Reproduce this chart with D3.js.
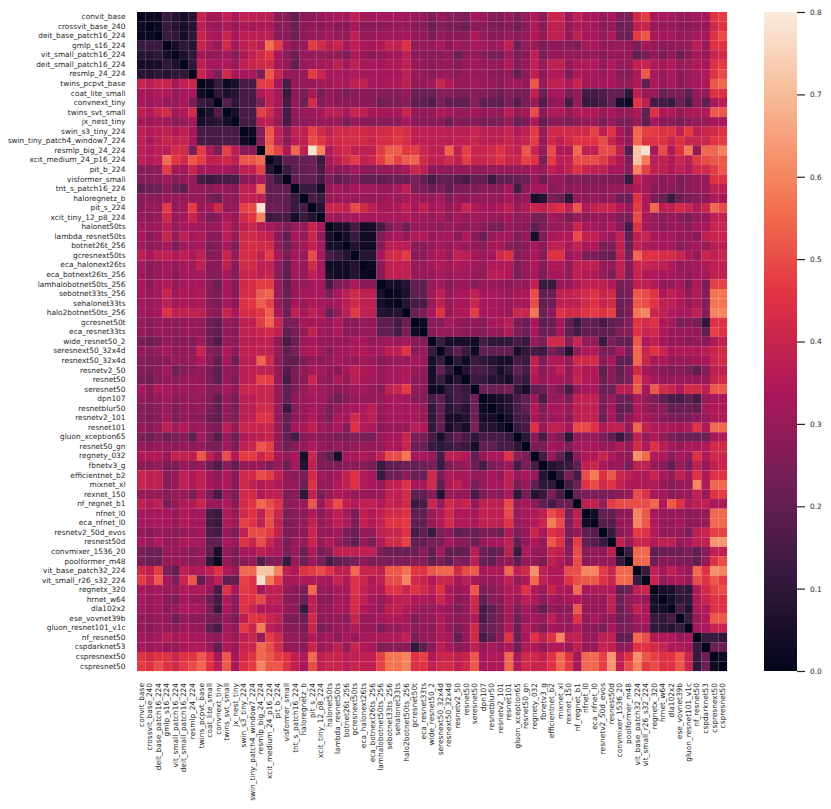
<!DOCTYPE html>
<html>
<head>
<meta charset="utf-8">
<script src="https://cdn.jsdelivr.net/npm/d3@7"></script>
<style>
  body { margin: 0; background: #fff; }
  svg text { font-family: "DejaVu Sans", sans-serif; fill: #262626; }
</style>
</head>
<body>
<svg id="chart" width="831" height="809"></svg>
<script>
// Model names, same order on both axes
const models = [
  'convit_base', 'crossvit_base_240', 'deit_base_patch16_224', 'gmlp_s16_224',
  'vit_small_patch16_224', 'deit_small_patch16_224', 'resmlp_24_224', 'twins_pcpvt_base',
  'coat_lite_small', 'convnext_tiny', 'twins_svt_small', 'jx_nest_tiny',
  'swin_s3_tiny_224', 'swin_tiny_patch4_window7_224', 'resmlp_big_24_224', 'xcit_medium_24_p16_224',
  'pit_b_224', 'visformer_small', 'tnt_s_patch16_224', 'haloregnetz_b',
  'pit_s_224', 'xcit_tiny_12_p8_224', 'halonet50ts', 'lambda_resnet50ts',
  'botnet26t_256', 'gcresnext50ts', 'eca_halonext26ts', 'eca_botnext26ts_256',
  'lamhalobotnet50ts_256', 'sebotnet33ts_256', 'sehalonet33ts', 'halo2botnet50ts_256',
  'gcresnet50t', 'eca_resnet33ts', 'wide_resnet50_2', 'seresnext50_32x4d',
  'resnext50_32x4d', 'resnetv2_50', 'resnet50', 'seresnet50',
  'dpn107', 'resnetblur50', 'resnetv2_101', 'resnet101',
  'gluon_xception65', 'resnet50_gn', 'regnety_032', 'fbnetv3_g',
  'efficientnet_b2', 'mixnet_xl', 'rexnet_150', 'nf_regnet_b1',
  'nfnet_l0', 'eca_nfnet_l0', 'resnetv2_50d_evos', 'resnest50d',
  'convmixer_1536_20', 'poolformer_m48', 'vit_base_patch32_224', 'vit_small_r26_s32_224',
  'regnetx_320', 'hrnet_w64', 'dla102x2', 'ese_vovnet39b',
  'gluon_resnet101_v1c', 'nf_resnet50', 'cspdarknet53', 'cspresnext50', 'cspresnet50'
];

// Upper triangle of the (symmetric) matrix, in hundredths.
// Row i starts at its diagonal cell; "|" marks the column 23 and 46 boundaries.
const upper = [
  '0 2 2 12 8 4 8 40 33 33 38 33 38 38 37 37 27 27 20 28 28 30 32 | 33 32 38 32 32 33 33 32 32 30 30 25 30 27 27 25 33 30 27 27 30 25 30 | 35 28 40 40 30 38 33 33 30 33 25 25 42 47 33 33 32 30 30 32 33 45 47',
  '0 2 12 8 5 8 37 32 30 35 30 35 33 35 35 27 27 22 28 30 28 30 | 28 28 33 28 28 28 30 30 30 27 27 22 27 25 25 22 28 28 25 25 27 22 28 | 35 28 38 38 30 35 32 32 28 30 22 22 38 40 30 30 30 28 28 30 30 42 45',
  '0 12 10 5 10 40 35 33 40 33 37 37 37 37 28 28 22 28 30 30 32 | 30 30 38 30 30 32 32 32 33 30 30 25 30 27 28 27 35 30 28 28 30 27 30 | 35 30 38 38 30 38 33 33 30 35 22 22 47 52 33 33 33 30 30 33 33 45 50',
  '0 5 10 8 40 35 30 42 32 38 40 37 56 47 32 28 30 47 42 37 | 40 33 38 33 33 35 40 38 45 30 30 30 33 28 32 30 33 32 30 32 38 22 30 | 30 25 28 28 27 25 33 33 30 30 30 30 25 33 30 28 28 30 30 37 30 45 45',
  '0 6 10 33 30 30 32 27 35 38 42 46 33 27 22 30 30 30 30 | 30 25 35 30 28 30 32 32 38 28 28 27 28 30 22 28 30 28 25 25 32 25 28 | 38 25 30 30 30 30 30 30 28 30 30 30 20 25 30 25 30 22 28 33 30 40 42',
  '0 10 38 33 33 35 30 38 40 42 42 32 30 20 30 32 32 33 | 38 32 38 33 33 33 35 35 38 30 30 28 30 30 27 30 32 30 30 30 35 27 30 | 38 30 38 38 30 35 35 35 30 35 30 30 38 40 35 33 35 30 32 35 33 45 47',
  '0 40 33 25 42 33 33 33 25 52 40 30 30 30 47 40 33 | 33 32 35 32 32 33 33 33 38 30 30 27 30 30 28 30 30 30 28 28 30 20 28 | 38 28 35 35 25 35 33 33 30 33 27 27 35 52 33 30 33 28 30 33 35 45 50',
  '0 3 12 2 5 15 15 47 47 33 15 30 30 30 32 32 | 35 33 38 38 33 33 35 35 38 30 30 32 40 35 30 30 32 30 30 28 32 32 30 | 52 30 38 38 35 40 33 33 33 33 30 30 35 20 35 30 33 28 30 33 35 52 55',
  '0 10 6 8 15 15 35 38 33 12 28 25 33 25 30 | 28 25 27 28 27 27 27 27 30 22 22 22 27 27 25 25 27 27 25 22 27 25 25 | 38 22 32 33 25 30 15 15 17 20 20 10 38 30 30 22 25 25 20 30 30 45 45',
  '0 18 10 15 15 25 38 33 15 30 22 42 28 30 | 28 28 28 28 27 22 25 25 27 20 20 17 25 20 20 20 27 20 20 20 25 18 25 | 30 17 28 30 15 30 12 12 15 20 5 2 45 38 15 15 12 22 15 28 20 33 37',
  '0 5 15 15 48 42 33 15 30 30 30 33 37 | 37 33 40 38 33 33 33 33 40 30 30 30 35 33 30 30 33 30 30 30 37 30 32 | 50 28 35 35 30 35 35 35 30 33 30 30 35 20 45 35 35 30 33 35 35 52 52',
  '0 15 15 37 37 30 15 27 28 30 30 30 | 30 25 30 28 27 27 28 28 33 28 27 27 28 22 28 25 28 25 25 25 30 22 25 | 35 20 28 28 25 28 30 30 25 30 25 25 30 20 33 28 28 25 28 30 30 33 33',
  '0 3 27 52 38 28 38 38 48 42 38 | 42 42 43 42 40 42 43 45 43 38 38 37 38 37 37 37 40 37 37 37 40 35 38 | 47 30 42 42 42 42 42 48 38 45 33 28 55 48 47 45 45 38 47 38 40 42 45',
  '0 28 52 38 28 37 38 50 46 40 | 42 43 43 42 40 43 43 46 43 38 38 37 38 37 38 38 40 37 37 38 40 37 40 | 47 30 42 38 42 45 45 45 50 40 33 30 55 45 45 45 40 45 40 40 40 46 47',
  '0 55 48 35 55 38 78 60 35 | 40 42 38 38 38 47 53 53 46 47 40 38 38 54 38 48 40 40 42 45 40 38 52 | 40 30 50 35 35 55 38 38 50 50 38 17 72 78 33 50 35 45 58 30 55 55 60',
  '0 8 20 20 20 22 12 33 | 38 42 47 38 40 47 54 48 53 54 42 38 38 42 38 47 40 40 42 45 40 40 48 | 45 25 47 37 38 50 50 50 47 40 35 25 72 58 37 38 35 40 37 47 50 52 52',
  '0 12 20 20 22 15 30 | 28 28 33 28 27 30 30 30 33 40 38 28 30 28 30 30 30 30 30 30 30 30 30 | 33 30 38 35 38 45 40 38 38 33 33 27 60 48 38 38 35 38 35 42 42 47 52',
  '0 20 20 20 15 25 | 20 22 25 20 20 20 22 22 22 25 20 15 20 20 18 15 20 20 13 20 20 20 22 | 30 22 30 30 25 27 25 25 25 25 25 12 38 33 30 28 30 25 28 30 30 45 45',
  '0 12 12 5 30 | 33 30 33 32 32 30 30 33 38 25 25 22 25 20 25 25 25 28 27 28 33 15 28 | 33 33 27 30 28 30 28 28 28 30 30 30 35 33 28 28 28 25 28 30 30 38 38',
  '0 15 12 30 | 30 32 30 30 30 30 33 30 33 33 30 30 33 25 30 28 30 30 30 30 33 28 30 | 5 8 25 22 10 30 28 30 28 30 22 22 45 35 25 22 12 22 25 27 28 35 33',
  '0 8 40 | 40 38 50 42 38 33 33 35 38 33 38 33 35 30 33 40 35 33 33 35 38 30 35 | 40 38 42 45 38 52 35 38 40 40 35 30 47 35 55 38 38 42 40 35 40 55 50',
  '0 33 | 30 33 33 33 33 33 33 33 35 33 32 30 33 28 32 30 32 32 30 30 32 28 30 | 25 25 32 30 25 30 28 30 30 30 25 25 50 33 30 28 30 28 25 30 30 38 38',
  '0 | 5 5 15 3 5 15 25 30 22 30 30 30 28 30 30 28 30 28 25 25 30 28 28 | 20 25 30 30 30 40 33 33 30 35 28 15 45 33 30 28 30 30 28 33 33 40 40',
  '0 5 12 3 3 25 33 33 30 35 35 30 32 33 28 35 28 22 30 33 33 25 30 | 5 25 33 35 35 50 38 38 33 30 38 20 38 40 33 33 33 30 30 28 38 40 40',
  '0 8 3 3 27 37 37 37 28 28 30 33 30 33 30 30 27 33 33 27 25 28 | 33 28 38 38 33 38 33 35 25 25 38 22 38 35 33 33 33 27 30 33 30 37 37',
  '0 8 8 33 42 42 47 28 28 33 35 30 38 37 32 30 33 42 45 27 30 | 33 28 45 45 30 35 25 25 22 20 38 25 55 45 45 43 43 40 35 30 40 38 40',
  '0 2 28 38 38 38 30 30 33 35 32 35 33 32 30 35 35 35 25 30 | 35 27 35 35 30 38 38 38 30 30 38 28 40 40 38 38 35 30 30 33 35 38 38',
  '0 28 38 38 38 30 30 30 33 30 33 32 30 30 37 37 35 25 30 | 33 25 33 33 30 38 35 35 30 25 38 25 40 35 35 33 33 30 30 33 33 38 38',
  '0 5 5 8 20 20 30 32 27 30 30 28 30 30 30 28 30 30 | 38 12 12 30 30 35 38 38 38 35 25 25 38 38 35 30 30 33 25 35 25 48 48',
  '0 2 6 20 20 32 38 30 33 33 38 33 33 33 30 33 35 | 50 20 22 38 38 40 42 45 40 42 22 25 52 50 45 35 38 35 30 35 27 57 57',
  '0 8 15 15 30 38 30 33 33 40 33 33 33 30 33 33 | 50 20 22 38 38 38 42 45 40 42 22 25 52 50 45 38 38 35 30 35 27 57 57',
  '0 22 25 33 45 30 35 35 47 33 33 33 30 40 40 | 57 22 28 45 42 42 45 47 45 48 22 25 57 60 40 38 35 33 33 38 28 60 60',
  '0 3 27 27 33 30 28 30 27 33 33 37 25 22 | 33 20 22 33 20 12 20 20 15 20 22 27 46 42 45 35 33 25 27 25 10 45 45',
  '0 27 30 30 30 28 28 27 30 30 35 25 22 | 33 22 22 33 20 15 20 20 20 20 27 27 45 40 42 35 30 30 30 30 20 48 45',
  '0 12 5 5 5 3 15 10 10 10 15 12 | 30 25 42 42 28 40 30 30 12 25 20 20 52 35 38 33 30 30 28 30 28 35 38',
  '0 12 20 12 3 20 20 20 20 5 10 | 15 12 25 20 8 30 35 35 25 25 33 25 55 40 45 40 33 35 35 35 37 40 42',
  '0 10 3 12 10 8 5 5 15 12 | 38 25 35 35 30 42 42 42 28 33 20 20 55 40 33 35 30 30 30 33 33 40 42',
  '0 8 15 15 12 5 10 20 15 | 37 28 33 38 30 38 35 35 20 28 20 27 42 33 30 28 25 28 25 20 27 38 38',
  '0 12 12 8 8 5 15 12 | 35 30 33 33 30 40 35 35 22 27 22 25 50 37 33 30 30 30 30 30 30 40 42',
  '0 22 22 22 25 10 5 | 20 22 30 25 15 30 33 33 22 22 37 37 53 33 52 42 40 35 42 42 38 52 52',
  '0 3 5 8 15 20 | 30 15 30 30 25 38 38 38 25 30 22 22 33 30 25 20 15 15 20 15 30 33 33',
  '0 5 8 15 20 | 35 25 33 33 30 38 38 38 25 33 20 20 35 30 28 28 20 22 22 20 33 35 35',
  '0 5 15 15 | 33 28 30 33 28 38 38 38 22 33 22 28 35 33 30 28 25 25 25 28 30 35 35',
  '0 12 15 | 45 30 38 38 33 50 50 45 35 38 38 30 55 38 35 35 33 33 35 45 35 55 55',
  '0 10 | 27 15 30 25 10 30 30 30 25 20 12 20 38 30 35 30 25 22 22 22 22 33 35',
  '0 | 25 25 33 30 25 33 33 33 30 30 35 30 42 35 45 37 33 30 35 33 35 42 42',
  '0 15 30 20 8 28 35 35 40 35 30 30 62 55 35 35 28 33 30 45 35 42 40',
  '0 8 10 12 20 38 40 33 30 30 25 38 38 30 28 20 30 25 38 30 38 40',
  '0 10 25 15 50 58 45 52 40 38 35 35 40 33 30 38 33 45 35 45 45',
  '0 15 22 45 50 42 45 38 35 35 35 35 30 28 30 30 60 35 55 55',
  '0 22 25 25 25 25 28 30 50 45 33 33 28 30 30 38 30 45 47',
  '0 38 38 30 47 50 50 50 50 55 35 52 45 35 38 38 33 33',
  '0 3 20 20 28 28 60 52 33 30 30 30 28 30 30 55 55',
  '0 18 18 30 30 60 52 35 30 30 33 28 30 30 55 55',
  '0 12 28 30 47 45 35 30 30 30 25 38 40 48 48',
  '0 38 30 40 40 35 38 38 30 33 38 38 63 63',
  '0 12 55 55 20 22 22 22 25 20 28 38 38',
  '0 55 55 22 28 28 25 25 20 30 45 50',
  '0 12 38 33 38 33 30 55 45 62 60',
  '0 40 30 33 35 30 50 45 52 47',
  '0 5 5 12 10 35 42 48 50',
  '0 5 10 10 35 40 45 45',
  '0 15 8 35 35 45 45',
  '0 12 30 35 52 52',
  '0 33 33 40 40',
  '0 12 12 10',
  '0 22 22',
  '0 3',
  '0'
];

const colorTicks = [0, 0.1, 0.2, 0.3, 0.4, 0.5, 0.6, 0.7, 0.8];

// seaborn "rocket" colormap, sampled
const rocketStops = [0, 1 / 7, 2 / 7, 3 / 7, 4 / 7, 5 / 7, 6 / 7, 1];
const rocketColors = ['#03051a', '#35193e', '#701f57', '#ad1759', '#e13342', '#f37651', '#f6b48f', '#faebdd'];

const vmin = 0, vmax = 0.8;

// Build the full symmetric matrix
const n = models.length;
const dist = models.map(() => new Array(n).fill(0));
upper.forEach((row, i) => {
  row.trim().split(/[\s|]+/).forEach((v, k) => {
    const j = i + k;
    if (j < n) {
      dist[i][j] = +v / 100;
      dist[j][i] = +v / 100;
    }
  });
});

const cells = [];
for (let i = 0; i < n; i++) {
  for (let j = 0; j < n; j++) {
    cells.push({ row: models[i], col: models[j], value: dist[i][j] });
  }
}

const svg = d3.select('#chart');

const plot = { left: 137, top: 12, right: 727, bottom: 671 };

const x = d3.scaleBand().domain(models).range([plot.left, plot.right]).padding(0);
const y = d3.scaleBand().domain(models).range([plot.top, plot.bottom]).padding(0);

const color = d3.scaleLinear()
  .domain(rocketStops.map(s => vmin + s * (vmax - vmin)))
  .range(rocketColors)
  .interpolate(d3.interpolateRgb)
  .clamp(true);

// Cells
svg.append('g')
  .selectAll('rect')
  .data(cells)
  .join('rect')
  .attr('x', d => x(d.col))
  .attr('y', d => y(d.row))
  .attr('width', x.bandwidth() + 0.1)
  .attr('height', y.bandwidth() + 0.1)
  .attr('fill', d => color(d.value));

// Y axis labels
const yAxis = svg.append('g')
  .attr('transform', `translate(${plot.left},0)`)
  .call(d3.axisLeft(y).tickSize(0).tickPadding(11.5));
yAxis.select('.domain').remove();
yAxis.selectAll('text')
  .attr('font-size', 7.4)
  .attr('fill', '#262626')
  .attr('font-family', '"DejaVu Sans", sans-serif');

// X axis labels, rotated
const xAxis = svg.append('g')
  .attr('transform', `translate(0,${plot.bottom})`)
  .call(d3.axisBottom(x).tickSize(0));
xAxis.select('.domain').remove();
xAxis.selectAll('text')
  .attr('font-size', 7.4)
  .attr('fill', '#262626')
  .attr('font-family', '"DejaVu Sans", sans-serif')
  .attr('transform', 'rotate(-90)')
  .attr('text-anchor', 'end')
  .attr('x', -12)
  .attr('y', 0)
  .attr('dy', '0.32em');

// Colorbar
const cbar = { x: 764, width: 33 };
const grad = svg.append('defs').append('linearGradient')
  .attr('id', 'rocket')
  .attr('x1', 0).attr('y1', 1)
  .attr('x2', 0).attr('y2', 0);
d3.range(0, 1.0001, 0.02).forEach(t => {
  grad.append('stop')
    .attr('offset', t)
    .attr('stop-color', color(vmin + t * (vmax - vmin)));
});

svg.append('rect')
  .attr('x', cbar.x)
  .attr('y', plot.top)
  .attr('width', cbar.width)
  .attr('height', plot.bottom - plot.top)
  .attr('fill', 'url(#rocket)');

const cScale = d3.scaleLinear().domain([vmin, vmax]).range([plot.bottom, plot.top]);
const cAxis = svg.append('g')
  .attr('transform', `translate(${cbar.x + cbar.width},0)`)
  .call(d3.axisRight(cScale).tickValues(colorTicks).tickSize(8).tickPadding(5).tickFormat(d3.format('.1f')));
cAxis.select('.domain').remove();
cAxis.selectAll('line').attr('stroke', '#262626').attr('stroke-width', 1.2);
cAxis.selectAll('text')
  .attr('font-size', 7.4)
  .attr('fill', '#262626')
  .attr('font-family', '"DejaVu Sans", sans-serif');
</script>
</body>
</html>
